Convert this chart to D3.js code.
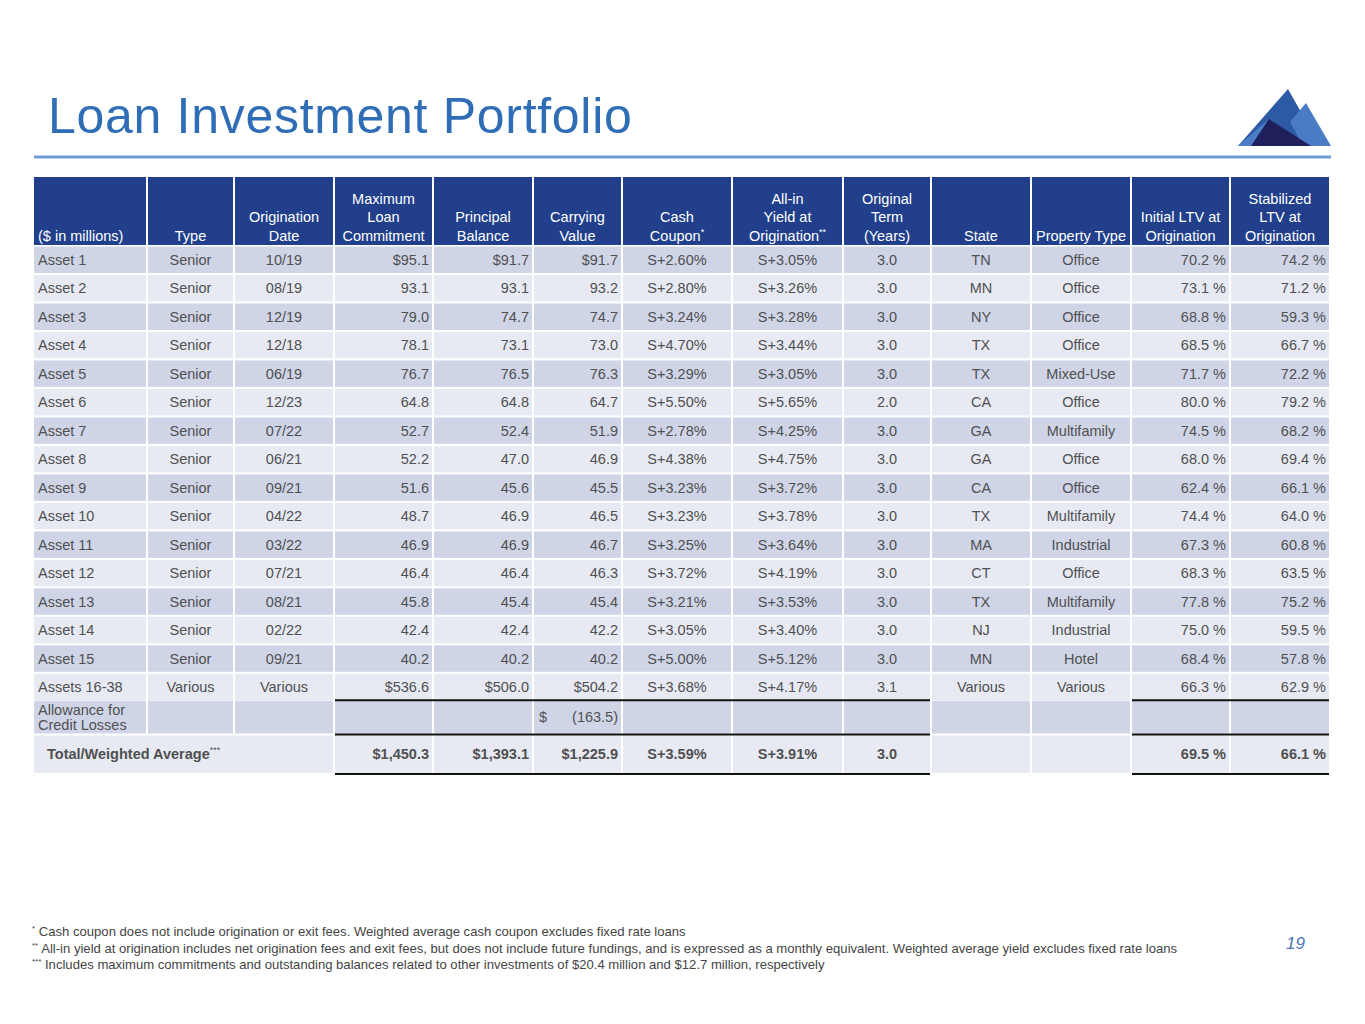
<!DOCTYPE html>
<html><head><meta charset="utf-8">
<script src="https://cdn.jsdelivr.net/npm/d3@7"></script>
<style>
html,body{margin:0;padding:0;background:#fff;}
svg text{font-family:"Liberation Sans",Arial,sans-serif;}
</style></head>
<body>
<svg id="chart" width="1365" height="1024"></svg>
<script>
// ---------- DATA ----------
const headers = [
  ["($ in millions)"],
  ["Type"],
  ["Origination","Date"],
  ["Maximum","Loan","Commitment"],
  ["Principal","Balance"],
  ["Carrying","Value"],
  ["Cash","Coupon*"],
  ["All-in","Yield at","Origination**"],
  ["Original","Term","(Years)"],
  ["State"],
  ["Property Type"],
  ["Initial LTV at","Origination"],
  ["Stabilized","LTV at","Origination"]
];
const assetNames = ["Asset 1","Asset 2","Asset 3","Asset 4","Asset 5","Asset 6","Asset 7","Asset 8","Asset 9","Asset 10","Asset 11","Asset 12","Asset 13","Asset 14","Asset 15","Assets 16-38"];
const loanTypes = ["Senior","Senior","Senior","Senior","Senior","Senior","Senior","Senior","Senior","Senior","Senior","Senior","Senior","Senior","Senior","Various"];
const originationDates = ["10/19","08/19","12/19","12/18","06/19","12/23","07/22","06/21","09/21","04/22","03/22","07/21","08/21","02/22","09/21","Various"];
const maxLoanCommitment = [95.1,93.1,79.0,78.1,76.7,64.8,52.7,52.2,51.6,48.7,46.9,46.4,45.8,42.4,40.2,536.6];
const principalBalance = [91.7,93.1,74.7,73.1,76.5,64.8,52.4,47.0,45.6,46.9,46.9,46.4,45.4,42.4,40.2,506.0];
const carryingValue = [91.7,93.2,74.7,73.0,76.3,64.7,51.9,46.9,45.5,46.5,46.7,46.3,45.4,42.2,40.2,504.2];
const cashCoupon = [2.60,2.80,3.24,4.70,3.29,5.50,2.78,4.38,3.23,3.23,3.25,3.72,3.21,3.05,5.00,3.68];
const allInYield = [3.05,3.26,3.28,3.44,3.05,5.65,4.25,4.75,3.72,3.78,3.64,4.19,3.53,3.40,5.12,4.17];
const originalTerm = [3.0,3.0,3.0,3.0,3.0,2.0,3.0,3.0,3.0,3.0,3.0,3.0,3.0,3.0,3.0,3.1];
const states = ["TN","MN","NY","TX","TX","CA","GA","GA","CA","TX","MA","CT","TX","NJ","MN","Various"];
const propertyTypes = ["Office","Office","Office","Office","Mixed-Use","Office","Multifamily","Office","Office","Multifamily","Industrial","Office","Multifamily","Industrial","Hotel","Various"];
const initialLTV = [70.2,73.1,68.8,68.5,71.7,80.0,74.5,68.0,62.4,74.4,67.3,68.3,77.8,75.0,68.4,66.3];
const stabilizedLTV = [74.2,71.2,59.3,66.7,72.2,79.2,68.2,69.4,66.1,64.0,60.8,63.5,75.2,59.5,57.8,62.9];
const allowanceLabel = ["Allowance for","Credit Losses"];
const allowanceValue = -163.5;
const totalLabel = "Total/Weighted Average***";
const totalValues = {maxLoan:1450.3, principal:1393.1, carrying:1225.9, coupon:3.59, yield:3.91, term:3.0, initLTV:69.5, stabLTV:66.1};
const footnotes = [
  ["*"," Cash coupon does not include origination or exit fees. Weighted average cash coupon excludes fixed rate loans"],
  ["**"," All-in yield at origination includes net origination fees and exit fees, but does not include future fundings, and is expressed as a monthly equivalent. Weighted average yield excludes fixed rate loans"],
  ["***"," Includes maximum commitments and outstanding balances related to other investments of $20.4 million and $12.7 million, respectively"]
];
const titleText = "Loan Investment Portfolio";
const pageNumber = "19";

// ---------- LAYOUT ----------
const colEdges = [34,148,235,335,434,534,623,733,844,932,1032,1132,1231,1331];
const colAlign = ["start","middle","middle","end","end","end","middle","middle","middle","middle","middle","end","end"];
const gap = 2;
const C = {header:"#213f8b", dark:"#cfd5e7", light:"#e7eaf3", text:"#505050", title:"#2f6db6", rule:"#6f9bd9"};

const svg = d3.select("#chart");
const nRows = assetNames.length;
const rowY = d3.scaleBand().domain(d3.range(nRows)).range([246.5, 246.5 + nRows*28.36]).paddingInner(0.07);
const headerTop = 177, headerBottom = 245;
const allowTop = rowY.range()[1] + 0.5, allowBottom = 733.5;
const totalTop = 735.5, totalBottom = 773;

function cx(c){ const a=colEdges[c], b=colEdges[c+1]-gap;
  return colAlign[c]==="start"? a+4 : colAlign[c]==="end"? b-3 : (a+b)/2; }

// title
svg.append("text").attr("x",48).attr("y",133).attr("fill",C.title)
  .attr("font-size",50).attr("letter-spacing",0.7).text(titleText);
svg.append("rect").attr("x",34).attr("y",155.5).attr("width",1297).attr("height",3).attr("fill",C.rule);

// logo
const logo = svg.append("g");
const tri = [
  {p:[[1238,146],[1288,89],[1320,146]], f:"#2d5aa5"},
  {p:[[1290,122],[1306,103],[1331,146],[1303,146]], f:"#4a7cc6"},
  {p:[[1238,146],[1269,119],[1252,146]], f:"#4a7ec8"},
  {p:[[1251,146],[1269,119],[1311,146]], f:"#1f1f5c"}
];
logo.selectAll("path").data(tri).join("path")
  .attr("d",d=>d3.line()(d.p)+"Z").attr("fill",d=>d.f);

// header
headers.forEach((lines,c)=>{
  svg.append("rect").attr("x",colEdges[c]).attr("y",headerTop)
    .attr("width",colEdges[c+1]-colEdges[c]-gap).attr("height",headerBottom-headerTop).attr("fill",C.header);
  const n=lines.length;
  lines.forEach((ln,i)=>{
    const t = svg.append("text").attr("x",cx(c)).attr("y",241-(n-1-i)*18.7)
      .attr("text-anchor",colAlign[c]==="end"?"middle":colAlign[c]).attr("fill","#fff").attr("font-size",14.5);
    if(colAlign[c]==="end") t.attr("x",(colEdges[c]+colEdges[c+1]-gap)/2);
    const m = ln.match(/^(.*?)(\*+)$/);
    if(m){ t.append("tspan").text(m[1]); t.append("tspan").attr("font-size",9).attr("dy",-6).text(m[2]); }
    else t.text(ln);
  });
});

// body rows
const f1 = d3.format(".1f"), f2 = d3.format(".2f");
const money = (v,i)=> (i===0||i===nRows-1?"$":"")+f1(v);
const rows = d3.range(nRows).map(i=>[
  assetNames[i], loanTypes[i], originationDates[i],
  money(maxLoanCommitment[i],i), money(principalBalance[i],i), money(carryingValue[i],i),
  "S+"+f2(cashCoupon[i])+"%", "S+"+f2(allInYield[i])+"%", f1(originalTerm[i]),
  states[i], propertyTypes[i], f1(initialLTV[i])+" %", f1(stabilizedLTV[i])+" %"
]);
const body = svg.append("g");
rows.forEach((r,i)=>{
  const y0=rowY(i), h=rowY.bandwidth();
  r.forEach((v,c)=>{
    body.append("rect").attr("x",colEdges[c]).attr("y",y0).attr("width",colEdges[c+1]-colEdges[c]-gap)
      .attr("height",h).attr("fill", i%2===0?C.dark:C.light);
    body.append("text").attr("x",cx(c)).attr("y",y0+h/2+5).attr("text-anchor",colAlign[c])
      .attr("fill",C.text).attr("font-size",14.5).text(v);
  });
});

// allowance row
for(let c=0;c<13;c++){
  svg.append("rect").attr("x",colEdges[c]).attr("y",allowTop).attr("width",colEdges[c+1]-colEdges[c]-gap)
    .attr("height",allowBottom-allowTop).attr("fill",C.dark);
}
allowanceLabel.forEach((ln,i)=>{
  svg.append("text").attr("x",cx(0)).attr("y",allowTop+14+i*15).attr("fill",C.text).attr("font-size",14.5).text(ln);
});
const allowMid = (allowTop+allowBottom)/2+5;
svg.append("text").attr("x",colEdges[5]+5).attr("y",allowMid).attr("fill",C.text).attr("font-size",14.5).text("$");
svg.append("text").attr("x",cx(5)).attr("y",allowMid).attr("text-anchor","end").attr("fill",C.text)
  .attr("font-size",14.5).text("("+f1(Math.abs(allowanceValue))+")");

// total row
svg.append("rect").attr("x",colEdges[0]).attr("y",totalTop).attr("width",colEdges[3]-colEdges[0]-gap)
  .attr("height",totalBottom-totalTop).attr("fill",C.light);
for(let c=3;c<13;c++){
  svg.append("rect").attr("x",colEdges[c]).attr("y",totalTop).attr("width",colEdges[c+1]-colEdges[c]-gap)
    .attr("height",totalBottom-totalTop).attr("fill",C.light);
}
const tMid=(totalTop+totalBottom)/2+5;
const tl = svg.append("text").attr("x",47).attr("y",tMid).attr("fill",C.text).attr("font-size",14.5).attr("font-weight","bold");
tl.append("tspan").text(totalLabel.replace(/\*+$/,""));
tl.append("tspan").attr("font-size",9).attr("font-weight","normal").attr("dy",-6).text("***");
const tv = [[3,"$"+d3.format(",.1f")(totalValues.maxLoan)],[4,"$"+d3.format(",.1f")(totalValues.principal)],
  [5,"$"+d3.format(",.1f")(totalValues.carrying)],[6,"S+"+f2(totalValues.coupon)+"%"],[7,"S+"+f2(totalValues.yield)+"%"],
  [8,f1(totalValues.term)],[11,f1(totalValues.initLTV)+" %"],[12,f1(totalValues.stabLTV)+" %"]];
tv.forEach(([c,v])=>{
  svg.append("text").attr("x",cx(c)).attr("y",tMid).attr("text-anchor",colAlign[c]).attr("fill",C.text)
    .attr("font-size",14.5).attr("font-weight","bold").text(v);
});

// black rules
const ruleSpans=[[3,9],[11,13]];
[allowTop-0.5, totalTop-1, totalBottom+1].forEach(y=>{
  ruleSpans.forEach(([a,b])=>{
    svg.append("line").attr("x1",colEdges[a]).attr("x2",colEdges[b]-gap).attr("y1",y).attr("y2",y)
      .attr("stroke","#111").attr("stroke-width",2);
  });
});

// footnotes
footnotes.forEach(([s,t],i)=>{
  const tx = svg.append("text").attr("x",32).attr("y",936+i*16.5).attr("fill","#444").attr("font-size",13.1);
  tx.append("tspan").attr("font-size",8).attr("dy",-5).text(s);
  tx.append("tspan").attr("dy",5).text(t);
});
svg.append("text").attr("x",1305).attr("y",949).attr("text-anchor","end").attr("fill","#4a73b9")
  .attr("font-size",17).attr("font-style","italic").text(pageNumber);
</script>
</body></html>
